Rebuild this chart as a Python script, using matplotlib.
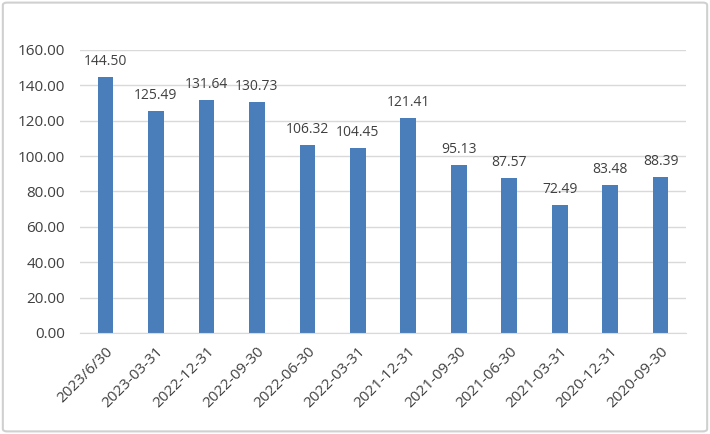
import matplotlib
matplotlib.use("Agg")
import matplotlib.pyplot as plt
from matplotlib.patches import FancyBboxPatch

categories = ["2023/6/30", "2023-03-31", "2022-12-31", "2022-09-30", "2022-06-30",
              "2022-03-31", "2021-12-31", "2021-09-30", "2021-06-30", "2021-03-31",
              "2020-12-31", "2020-09-30"]
values = [144.50, 125.49, 131.64, 130.73, 106.32, 104.45, 121.41, 95.13, 87.57, 72.49, 83.48, 88.39]
yticks = [0, 20, 40, 60, 80, 100, 120, 140, 160]

plt.rcParams['font.family'] = ['Open Sans', 'DejaVu Sans']
text_color = '#404040'
bar_color = '#4A7EBB'
fs_tick = 11
fs_val = 10

fig = plt.figure(figsize=(7.10, 4.34), dpi=100)
fig.patch.set_facecolor('white')
border = FancyBboxPatch((0.004, 0.006), 0.992, 0.988, boxstyle="round,pad=0,rounding_size=0.006",
                        transform=fig.transFigure, fill=False, edgecolor='#d0d0d0', linewidth=1.5)
fig.patches.append(border)

ax = fig.add_axes([0.113, 0.233, 0.853, 0.652])
x = range(len(categories))
bars = ax.bar(x, values, width=0.31, color=bar_color, zorder=3)
for xi, v in zip(x, values):
    ax.text(xi, v + 4.5, f"{v:.2f}", ha='center', va='bottom', fontsize=fs_val, color=text_color)

ax.set_ylim(0, 160)
ax.set_xlim(-0.5, len(categories) - 0.5)
ax.set_yticks(yticks)
ax.set_yticklabels([f"{t:.2f}" for t in yticks], fontsize=fs_tick, color=text_color)
ax.set_xticks(list(x))
ax.set_xticklabels(categories, rotation=45, ha='right', rotation_mode='anchor',
                   fontsize=fs_tick, color=text_color)
ax.yaxis.grid(True, color='#d9d9d9', linewidth=1, zorder=0)
ax.tick_params(axis='y', length=0, pad=11)
ax.tick_params(axis='x', length=0, pad=8)
for s in ['top', 'right', 'left']:
    ax.spines[s].set_visible(False)
ax.spines['bottom'].set_color('#d9d9d9')
ax.spines['bottom'].set_zorder(4)

fig.savefig("out.png", dpi=100)
